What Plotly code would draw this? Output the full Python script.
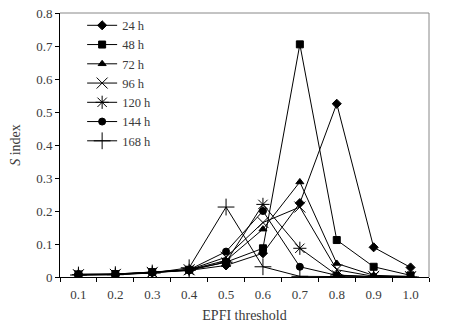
import plotly.graph_objects as go

thresholds = [0.1, 0.2, 0.3, 0.4, 0.5, 0.6, 0.7, 0.8, 0.9, 1.0]
tick_labels = ["0.1", "0.2", "0.3", "0.4", "0.5", "0.6", "0.7", "0.8", "0.9", "1.0"]
y_ticks = [0, 0.1, 0.2, 0.3, 0.4, 0.5, 0.6, 0.7, 0.8]
y_labels = ["0", "0.1", "0.2", "0.3", "0.4", "0.5", "0.6", "0.7", "0.8"]

s_24h = [0.008, 0.008, 0.014, 0.02, 0.035, 0.072, 0.224, 0.525, 0.09, 0.029]
s_48h = [0.008, 0.009, 0.015, 0.022, 0.045, 0.087, 0.705, 0.112, 0.031, 0.005]
s_72h = [0.008, 0.009, 0.015, 0.022, 0.05, 0.145, 0.288, 0.041, 0.005, 0.002]
s_96h = [0.007, 0.008, 0.014, 0.022, 0.06, 0.165, 0.212, 0.022, 0.002, 0.001]
s_120h = [0.007, 0.008, 0.013, 0.02, 0.045, 0.22, 0.087, 0.006, 0.001, 0.0]
s_144h = [0.006, 0.007, 0.013, 0.022, 0.077, 0.2, 0.031, 0.005, 0.001, 0.0]
s_168h = [0.006, 0.007, 0.012, 0.028, 0.212, 0.031, 0.002, 0.001, 0.0, 0.0]

series = [
    ("24 h", s_24h, "diamond", 7),
    ("48 h", s_48h, "square", 7),
    ("72 h", s_72h, "triangle-up", 7),
    ("96 h", s_96h, "x-thin-open", 11),
    ("120 h", s_120h, "asterisk-open", 11),
    ("144 h", s_144h, "circle", 7),
    ("168 h", s_168h, "cross-thin-open", 12),
]

fig = go.Figure()
for name, vals, sym, sz in series:
    fig.add_trace(go.Scatter(
        x=thresholds, y=vals, name=name, mode="lines+markers",
        line=dict(color="black", width=1),
        marker=dict(symbol=sym, size=sz, color="black",
                    line=dict(color="black", width=1)),
    ))

font_family = "Liberation Serif, Times New Roman, serif"
fig.update_layout(
    width=452, height=324,
    margin=dict(l=60, r=23, t=12, b=47),
    paper_bgcolor="white", plot_bgcolor="white",
    font=dict(family=font_family, size=13, color="#3a3a3a"),
    showlegend=True,
    legend=dict(x=0.06, y=1.005, xanchor="left", yanchor="top",
                bgcolor="rgba(0,0,0,0)", borderwidth=0,
                font=dict(size=12.5, color="#3a3a3a"),
                itemwidth=30, tracegroupgap=0),
    xaxis=dict(
        range=[0.05, 1.05], tickmode="array", tickvals=thresholds,
        ticktext=tick_labels, ticks="outside", ticklen=5,
        tickcolor="rgba(0,0,0,0)", showgrid=False, zeroline=False,
        showline=True, linecolor="black", linewidth=1, mirror=False,
        automargin=False,
        minor=dict(tickmode="array",
                   tickvals=[0.05, 0.15, 0.25, 0.35, 0.45, 0.55, 0.65, 0.75, 0.85, 0.95, 1.05],
                   ticks="outside", ticklen=4, tickcolor="black", showgrid=False),
        title=dict(text="EPFI threshold", font=dict(size=14), standoff=9),
        tickfont=dict(size=13),
    ),
    yaxis=dict(
        range=[0, 0.8], tickmode="array", tickvals=y_ticks, ticktext=y_labels,
        ticks="outside", ticklen=4, tickcolor="black", showgrid=False,
        zeroline=False, showline=True, linecolor="black", linewidth=1,
        automargin=False,
        title=dict(text="<i>S</i> index", font=dict(size=14), standoff=12),
        tickfont=dict(size=13),
    ),
    shapes=[
        dict(type="line", xref="paper", yref="paper", x0=0, x1=1, y0=1, y1=1,
             line=dict(color="#888888", width=1)),
        dict(type="line", xref="paper", yref="paper", x0=1, x1=1, y0=0, y1=1,
             line=dict(color="#888888", width=1)),
    ],
)

fig.write_html("out.html", config={"displayModeBar": False},
               post_script="document.body.style.margin='0';")
